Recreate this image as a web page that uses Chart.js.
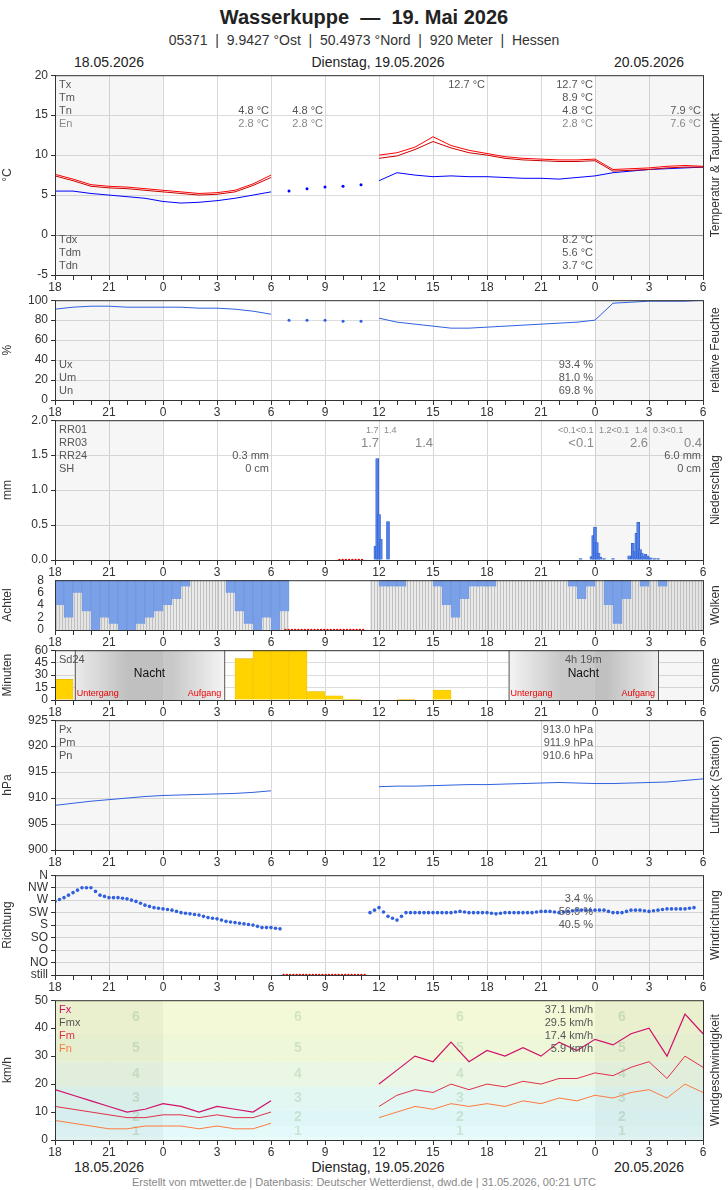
<!DOCTYPE html>
<html><head><meta charset="utf-8">
<script src="https://cdn.jsdelivr.net/npm/chart.js@4/dist/chart.umd.min.js"></script>
<style>
body{margin:0;width:728px;height:1190px;position:relative;font-family:"Liberation Sans",Arial,sans-serif;background:#fff;overflow:hidden}
.t{position:absolute;white-space:nowrap;color:#222}
canvas{position:absolute;left:0}
</style></head><body>
<div class="t" style="left:0;width:728px;text-align:center;top:6px;font-size:20px;font-weight:bold">Wasserkuppe &nbsp;—&nbsp; 19. Mai 2026</div>
<div class="t" style="left:0;width:728px;text-align:center;top:32px;font-size:14px;color:#333">05371 &nbsp;|&nbsp; 9.9427 °Ost &nbsp;|&nbsp; 50.4973 °Nord &nbsp;|&nbsp; 920 Meter &nbsp;|&nbsp; Hessen</div>
<div class="t" style="left:74px;top:54px;font-size:14px">18.05.2026</div>
<div class="t" style="left:0;width:756px;text-align:center;top:54px;font-size:14px">Dienstag, 19.05.2026</div>
<div class="t" style="left:614px;top:54px;font-size:14px">20.05.2026</div>
<div class="t" style="left:74px;top:1159px;font-size:14px">18.05.2026</div>
<div class="t" style="left:0;width:756px;text-align:center;top:1159px;font-size:14px">Dienstag, 19.05.2026</div>
<div class="t" style="left:614px;top:1159px;font-size:14px">20.05.2026</div>
<div class="t" style="left:0;width:728px;text-align:center;top:1176px;font-size:11px;color:#888">Erstellt von mtwetter.de | Datenbasis: Deutscher Wetterdienst, dwd.de | 31.05.2026, 00:21 UTC</div>
<script>
// ---------- DATA ----------
const hours = Array.from({length:37},(_,i)=>i); // offset hours from 18.05 18:00
const tempTx = [7.6,7.0,6.3,6.1,6.0,5.8,5.6,5.4,5.2,5.3,5.6,6.4,7.5,null,null,null,null,null,10.0,10.3,11.0,12.3,11.2,10.6,10.2,9.8,9.6,9.5,9.4,9.4,9.5,8.2,8.3,8.4,8.6,8.7,8.6];
const tempTm = [7.4,6.8,6.1,5.9,5.8,5.6,5.4,5.2,5.0,5.1,5.4,6.2,7.2,null,null,null,null,null,9.6,9.9,10.7,11.7,10.9,10.3,10.0,9.6,9.4,9.3,9.2,9.2,9.3,8.0,8.1,8.2,8.4,8.5,8.5];
const dewTd = [5.5,5.5,5.2,5.0,4.8,4.6,4.2,4.0,4.1,4.3,4.6,5.0,5.4,null,null,null,null,null,6.8,7.8,7.5,7.3,7.4,7.3,7.3,7.2,7.1,7.1,7.0,7.2,7.4,7.8,8.0,8.2,8.3,8.4,8.5];
const dewDotsX = [13,14,15,16,17];
const dewDotsY = [5.5,5.8,6.0,6.1,6.3];
const humid = [91,93,94,94,93,93,93,93,92,92,91,89,86,null,null,null,null,null,82,78,76,74,72,72,73,74,75,76,77,78,80,97,98,99,99,99,100];
const humDotsY = [80,80,80,79,79];
const rainX = [17.8,17.9,18.0,18.1,18.5,29.2,29.8,29.9,30.0,30.1,30.2,30.3,30.5,31.0,31.9,32.1,32.2,32.3,32.4,32.5,32.6,32.7,32.8,32.9,33.0,33.1,33.3,33.5];
const rainY = [0.2,1.45,0.65,0.3,0.55,0.02,0.05,0.35,0.47,0.25,0.1,0.04,0.02,0.02,0.06,0.24,0.12,0.38,0.54,0.15,0.1,0.05,0.08,0.06,0.03,0.03,0.02,0.02];
const rainHdr = ["RR01","RR03","RR24","SH"];
const cloudHalf = [4,2,6,3,0,2,1,0,0,1,2,3,4,5,7,8,8,8,8,6,3,1,0,2,0,3,null,null,null,null,null,null,null,null,null,8,7,7,7,8,8,8,7,4,2,5,7,7,7,8,8,8,8,8,8,8,8,7,5,7,8,4,1,5,8,7,8,7,8,8,8,8];
const sunHour = [25,0,0,0,0,0,0,0,0,0,50,60,60,60,10,5,1,0,0,1,0,12,0,0,0,0,0,0,0,0,0,0,0,0,0,0];
const pressure = [908.6,909.0,909.4,909.7,910.0,910.3,910.5,910.6,910.7,910.8,910.9,911.1,911.4,null,null,null,null,null,912.2,912.3,912.3,912.4,912.5,912.6,912.6,912.7,912.8,912.9,913.0,912.9,912.8,912.8,912.9,913.0,913.1,913.4,913.7];
const dirLabels = ["still","NO","O","SO","S","SW","W","NW","N"];
const windDir = [5.9,6.2,6.6,7.0,7.0,6.4,6.2,6.2,6.1,5.9,5.6,5.4,5.3,5.2,5.0,4.9,4.8,4.6,4.5,4.3,4.2,4.1,4.0,3.8,3.8,3.7,null,null,null,null,null,null,null,null,null,5.0,5.4,4.7,4.4,5.0,5.0,5.0,5.0,5.0,5.0,5.1,5.0,5.0,5.0,4.9,5.0,5.0,5.0,5.0,5.1,5.1,5.0,5.1,5.2,5.2,5.2,5.2,5.0,5.0,5.2,5.2,5.1,5.2,5.3,5.3,5.3,5.4];
const windFx = [18,16,14,12,10,11,13,12,10,12,11,10,14,null,null,null,null,null,20,25,30,28,35,28,32,30,33,30,35,32,36,34,38,40,30,45,38];
const windFm = [12,11,10,9,8,8,9,9,8,9,8,8,10,null,null,null,null,null,12,16,18,17,20,18,20,19,21,20,22,22,24,23,26,28,22,30,26];
const windFn = [7,6,5,4,4,5,5,5,4,5,4,4,6,null,null,null,null,null,8,10,12,11,13,12,13,12,14,13,15,14,16,15,17,18,15,20,17];
const bft = [[0,1,'#e9fbfb'],[1,5,'#e4f9f9'],[5,11,'#def7f6'],[11,19,'#e2f7f2'],[19,28,'#eaf7e4'],[28,38,'#eef8d8'],[38,50,'#f3f9d6']];

// ---------- HELPERS ----------
const LEFT=55, RIGHT=25;
function xScale(){return {type:'linear',min:0,max:36,offset:false,
  afterBuildTicks:a=>{a.ticks=hours.map(v=>({value:v}))},
  ticks:{autoSkip:false,maxRotation:0,font:{size:12},color:'#333',padding:0,callback:v=>v%3===0?String((18+v)%24):''},
  grid:{offset:false,color:c=>c.tick&&c.tick.value%3===0?'#d8d8d8':'rgba(0,0,0,0)',tickLength:5,tickColor:'#333',drawTicks:true},
  border:{color:'#333'},afterFit:s=>{s.height=20}}}
function yScale(min,max,step,title,extra){return Object.assign({min,max,
  ticks:{stepSize:step,autoSkip:false,font:{size:12},color:'#333',padding:3},
  grid:{color:'#dcdcdc',tickLength:4,tickColor:'#333'},border:{color:'#333'},
  title:{display:true,text:title,font:{size:12},color:'#333',padding:0},
  afterFit:s=>{s.width=LEFT}},extra||{})}
function mk(top,h,cfg){
  const c=document.createElement('canvas');
  c.style.top=(top-10)+'px';c.width=728;c.height=h+10+20;
  c.style.width='728px';c.style.height=(h+30)+'px';
  document.body.appendChild(c);
  cfg.options=Object.assign({responsive:false,animation:false,devicePixelRatio:1,
    layout:{padding:{top:4,right:RIGHT,left:0,bottom:0}},
    plugins:{legend:{display:false},tooltip:{enabled:false}}},cfg.options||{});
  cfg.plugins=(cfg.plugins||[]).concat([frame]);
  return new Chart(c,cfg);
}
const frame={id:'frame',beforeDatasetsDraw(ch){
  const a=ch.chartArea,x=ch.scales.x,ctx=ch.ctx;
  ctx.save();ctx.fillStyle='rgba(0,0,0,0.035)';
  ctx.fillRect(a.left,a.top,x.getPixelForValue(6)-a.left,a.bottom-a.top);
  ctx.fillRect(x.getPixelForValue(30),a.top,a.right-x.getPixelForValue(30),a.bottom-a.top);
  ctx.restore();
},afterDraw(ch){
  const a=ch.chartArea,ctx=ch.ctx,o=ch.config.options;
  ctx.save();ctx.strokeStyle='#333';ctx.lineWidth=1;ctx.strokeRect(a.left+.5,a.top+.5,a.right-a.left,a.bottom-a.top);
  if(o.rlabel){ctx.translate(716,(a.top+a.bottom)/2);ctx.rotate(-Math.PI/2);ctx.fillStyle='#333';ctx.font='12px "Liberation Sans"';ctx.textAlign='center';ctx.textBaseline='middle';ctx.fillText(o.rlabel,0,0);ctx.setTransform(1,0,0,1,0,0);}
  (o.texts||[]).forEach(t=>{ctx.fillStyle=t.c||'#555';ctx.font=(t.s||11)+'px "Liberation Sans"';ctx.textAlign=t.a||'left';ctx.textBaseline='top';ctx.fillText(t.t,t.x,a.top+t.y);});
  ctx.restore();
}};
const L=(data,color,w)=>({type:'line',data:data.map((v,i)=>({x:i,y:v})),borderColor:color,borderWidth:w||1,pointRadius:0,spanGaps:false,tension:0});
const dotsDS=(xs,ys,color)=>({type:'scatter',data:xs.map((x,i)=>({x,y:ys[i]})),pointRadius:1.5,backgroundColor:color,borderWidth:0});
const redDots=(x0,x1,y)=>{const d=[];for(let x=x0;x<=x1+1e-6;x+=0.18)d.push({x,y});return {type:'scatter',data:d,pointRadius:1.2,backgroundColor:'#e00',borderWidth:0,order:0}};

// 1 Temperature
mk(75,200,{type:'line',data:{datasets:[
  L(tempTx,'#ff0000',1),L(tempTm,'#cc0000',1),L(dewTd,'#0000ff',1),dotsDS(dewDotsX,dewDotsY,'#0000ff')]},
 options:{scales:{x:xScale(),y:yScale(-5,20,5,'°C',{grid:{color:c=>c.tick.value===0?'#999':'#dcdcdc',tickLength:4,tickColor:'#333'}})},rlabel:'Temperatur & Taupunkt',
 texts:[{t:'Tx',x:59,y:4},{t:'Tm',x:59,y:17},{t:'Tn',x:59,y:30},{t:'En',x:59,y:43,c:'#888'},
 {t:'12.7 °C',x:485,y:4,a:'right'},{t:'12.7 °C',x:593,y:4,a:'right'},{t:'8.9 °C',x:593,y:17,a:'right'},
 {t:'4.8 °C',x:269,y:30,a:'right'},{t:'4.8 °C',x:323,y:30,a:'right'},{t:'4.8 °C',x:593,y:30,a:'right'},{t:'7.9 °C',x:701,y:30,a:'right'},
 {t:'2.8 °C',x:269,y:43,a:'right',c:'#888'},{t:'2.8 °C',x:323,y:43,a:'right',c:'#888'},{t:'2.8 °C',x:593,y:43,a:'right',c:'#888'},{t:'7.6 °C',x:701,y:43,a:'right',c:'#888'},
 {t:'Tdx',x:59,y:159},{t:'Tdm',x:59,y:172},{t:'Tdn',x:59,y:185},
 {t:'8.2 °C',x:593,y:159,a:'right'},{t:'5.6 °C',x:593,y:172,a:'right'},{t:'3.7 °C',x:593,y:185,a:'right'}]}});

// 2 Humidity
mk(300,100,{type:'line',data:{datasets:[L(humid,'#3060e0',1),dotsDS(dewDotsX,humDotsY,'#3060e0')]},
 options:{scales:{x:xScale(),y:yScale(0,100,20,'%')},rlabel:'relative Feuchte',
 texts:[{t:'Ux',x:59,y:59},{t:'Um',x:59,y:72},{t:'Un',x:59,y:85},{t:'93.4 %',x:593,y:59,a:'right'},{t:'81.0 %',x:593,y:72,a:'right'},{t:'69.8 %',x:593,y:85,a:'right'}]}});

// 3 Precipitation
mk(420,140,{type:'bar',data:{datasets:[
  {type:'bar',data:rainX.map((x,i)=>({x,y:rainY[i]})),backgroundColor:'#4f7fe8',borderColor:'#2a55c0',borderWidth:0.5,barThickness:3},
  redDots(15.8,17.2,0)]},
 options:{scales:{x:xScale(),y:yScale(0,2,0.5,'mm',{ticks:{stepSize:0.5,font:{size:12},color:'#333',padding:3,callback:v=>v.toFixed(1)}})},rlabel:'Niederschlag',
 texts:[{t:rainHdr[0],x:59,y:4},{t:rainHdr[1],x:59,y:17},{t:rainHdr[2],x:59,y:30},{t:rainHdr[3],x:59,y:43},
 {t:'1.7',x:366,y:6,s:9,c:'#888'},{t:'1.4',x:384,y:6,s:9,c:'#888'},{t:'1.7',x:361,y:17,s:13,c:'#888'},{t:'1.4',x:415,y:17,s:13,c:'#888'},
 {t:'<0.1<0.1',x:558,y:6,s:9,c:'#888'},{t:'1.2<0.1',x:599,y:6,s:9,c:'#888'},{t:'1.4',x:635,y:6,s:9,c:'#888'},{t:'0.3<0.1',x:653,y:6,s:9,c:'#888'},
 {t:'<0.1',x:594,y:17,s:13,c:'#888',a:'right'},{t:'2.6',x:648,y:17,s:13,c:'#888',a:'right'},{t:'0.4',x:702,y:17,s:13,c:'#888',a:'right'},
 {t:'0.3 mm',x:269,y:30,a:'right'},{t:'0 cm',x:269,y:43,a:'right'},{t:'6.0 mm',x:701,y:30,a:'right'},{t:'0 cm',x:701,y:43,a:'right'}]}});

// 4 Clouds
const cx=cloudHalf.map((v,i)=>i*0.5+0.25);
const greyX=[];cloudHalf.forEach((v,i)=>{if(v!==null)for(let k=0;k<3;k++)greyX.push(i*0.5+k/6+1/12);});
mk(580,50,{type:'bar',data:{datasets:[
  {data:greyX.map(x=>({x,y:8})),backgroundColor:'#c0c0c0',borderWidth:0,barThickness:1,grouped:false,order:3},
  {data:cloudHalf.map((v,i)=>({x:cx[i],y:v===null||v>=8?null:[v,8]})),backgroundColor:'#7aa0e8',borderColor:'#4f78c8',borderWidth:0.5,barThickness:9,grouped:false,order:1},
  redDots(12.8,17.2,0)]},
 options:{scales:{x:xScale(),y:yScale(0,8,2,'Achtel',{grid:{display:false}})},rlabel:'Wolken'}});

// 5 Sun
const nights=[[1.1,9.4,'Untergang','Aufgang',''],[25.2,33.5,'Untergang','Aufgang','4h 19m']];
const nightPlug={id:'night',beforeDatasetsDraw(ch){const ctx=ch.ctx,a=ch.chartArea,x=ch.scales.x;ctx.save();
 nights.forEach(n=>{const x0=x.getPixelForValue(n[0]),x1=x.getPixelForValue(n[1]);const g=ctx.createLinearGradient(x0,0,x1,0);
  g.addColorStop(0,'#f4f4f4');g.addColorStop(0.35,'#c8c8c8');g.addColorStop(0.65,'#c8c8c8');g.addColorStop(1,'#f4f4f4');
  ctx.fillStyle=g;ctx.fillRect(x0,a.top,x1-x0,a.bottom-a.top);ctx.strokeStyle='#555';ctx.beginPath();ctx.moveTo(x0+.5,a.top);ctx.lineTo(x0+.5,a.bottom);ctx.moveTo(x1+.5,a.top);ctx.lineTo(x1+.5,a.bottom);ctx.stroke();
  ctx.fillStyle='#111';ctx.font='12px "Liberation Sans"';ctx.textAlign='center';ctx.textBaseline='top';ctx.fillText('Nacht',(x0+x1)/2,a.top+17);
  ctx.fillStyle='#555';ctx.font='11px "Liberation Sans"';ctx.fillText(n[4],(x0+x1)/2,a.top+4);
  ctx.fillStyle='#e00';ctx.font='9px "Liberation Sans"';ctx.textAlign='left';ctx.fillText(n[2],x0+2,a.bottom-11);ctx.textAlign='right';ctx.fillText(n[3],x1-3,a.bottom-11);});
 ctx.restore();}};
mk(650,50,{type:'bar',data:{datasets:[{data:sunHour.map((v,i)=>({x:i+0.5,y:v})),backgroundColor:'#ffd200',borderColor:'#e0b000',borderWidth:0.5,barThickness:18}]},
 plugins:[nightPlug],
 options:{scales:{x:xScale(),y:yScale(0,60,15,'Minuten')},rlabel:'Sonne',texts:[{t:'Sd24',x:59,y:4}]}});

// 6 Pressure
mk(720,130,{type:'line',data:{datasets:[L(pressure,'#3060e0',1)]},
 options:{scales:{x:xScale(),y:yScale(900,925,5,'hPa')},rlabel:'Luftdruck (Station)',
 texts:[{t:'Px',x:59,y:4},{t:'Pm',x:59,y:17},{t:'Pn',x:59,y:30},{t:'913.0 hPa',x:593,y:4,a:'right'},{t:'911.9 hPa',x:593,y:17,a:'right'},{t:'910.6 hPa',x:593,y:30,a:'right'}]}});

// 7 Wind direction
const wdx=windDir.map((v,i)=>i*0.5);
mk(875,100,{type:'scatter',data:{datasets:[
  {data:wdx.map((x,i)=>({x,y:windDir[i]})),pointRadius:1.8,backgroundColor:'#3060e0',borderWidth:0},
  {data:wdx.map((x,i)=>({x:x+0.25,y:windDir[i]!==null&&windDir[i+1]!==null&&windDir[i+1]!==undefined?(windDir[i]+windDir[i+1])/2:null})),pointRadius:1.8,backgroundColor:'#3060e0',borderWidth:0},
  redDots(12.7,17.3,0)]},
 options:{scales:{x:xScale(),y:yScale(0,8,1,'Richtung',{ticks:{stepSize:1,autoSkip:false,font:{size:12},color:'#333',padding:3,callback:v=>dirLabels[v]}})},rlabel:'Windrichtung',
 texts:[{t:'3.4 %',x:593,y:18,a:'right'},{t:'56.0 %',x:593,y:31,a:'right'},{t:'40.5 %',x:593,y:44,a:'right'}]}});

// 8 Wind speed
const bftPlug={id:'bft',beforeDatasetsDraw(ch){const ctx=ch.ctx,a=ch.chartArea,y=ch.scales.y,x=ch.scales.x;ctx.save();
 bft.forEach((b,i)=>{const y0=y.getPixelForValue(b[1]),y1=y.getPixelForValue(b[0]);ctx.fillStyle=b[2];ctx.fillRect(a.left,y0,a.right-a.left,y1-y0);
  if(i>0){ctx.fillStyle='rgba(150,190,150,0.35)';ctx.font='bold 14px "Liberation Sans"';ctx.textAlign='center';ctx.textBaseline='middle';
   [4.5,13.5,22.5,31.5].forEach(h=>ctx.fillText(String(i),x.getPixelForValue(h),(y0+y1)/2));}});
 ctx.restore();}};
mk(1000,140,{type:'line',data:{datasets:[L(windFx,'#d0106a',1.2),L(windFm,'#e0304a',1),L(windFn,'#ff7a40',1)]},
 plugins:[bftPlug],
 options:{scales:{x:xScale(),y:yScale(0,50,10,'km/h')},rlabel:'Windgeschwindigkeit',
 texts:[{t:'Fx',x:59,y:4,c:'#d0106a'},{t:'Fmx',x:59,y:17,c:'#555'},{t:'Fm',x:59,y:30,c:'#e0304a'},{t:'Fn',x:59,y:43,c:'#ff7a40'},
 {t:'37.1 km/h',x:593,y:4,a:'right'},{t:'29.5 km/h',x:593,y:17,a:'right'},{t:'17.4 km/h',x:593,y:30,a:'right'},{t:'5.9 km/h',x:593,y:43,a:'right'}]}});
</script></body></html>
